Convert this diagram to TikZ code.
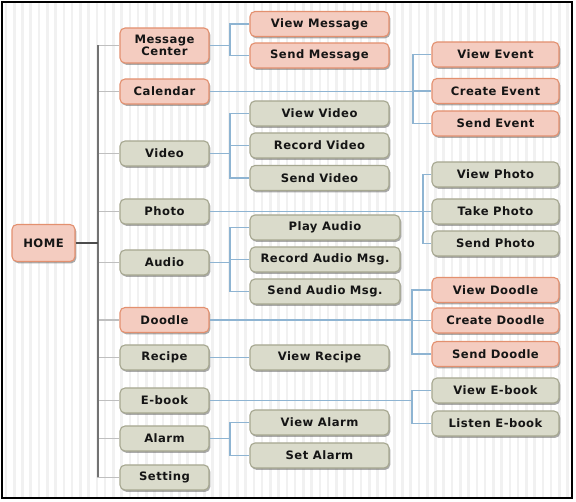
\documentclass[tikz,border=0pt]{standalone}
\usepackage{fontspec}
\setmainfont{DejaVu Sans}[LetterSpace=4]
\usetikzlibrary{shadows}
\definecolor{salfill}{HTML}{F4CCC0}
\definecolor{saldraw}{HTML}{E3906F}
\definecolor{grnfill}{HTML}{DADBCB}
\definecolor{grndraw}{HTML}{A6A790}
\definecolor{connblue}{HTML}{8EB4D2}
\definecolor{stripe}{HTML}{F1F1F1}
\definecolor{txt}{HTML}{151515}
\tikzset{
  box/.style={rounded corners=5pt, line width=1.1pt, minimum height=25pt, inner sep=1pt,
    font=\fontsize{11.6}{13}\selectfont\bfseries, text=txt, align=center,
    drop shadow={shadow xshift=1.3pt, shadow yshift=-1.8pt, opacity=0.55, fill=black!60}},
  salbox/.style={box, fill=salfill, draw=saldraw},
  grnbox/.style={box, fill=grnfill, draw=grndraw},
  lone/.style={minimum width=89pt},
  colA/.style={minimum width=139pt},
  colAw/.style={minimum width=150pt},
  colB/.style={minimum width=127pt},
  conn/.style={draw=connblue, line width=1.3pt},
  branch/.style={draw=black!25, line width=1.5pt},
  spine/.style={draw=black!55, line width=2pt},
  homelink/.style={draw=black!70, line width=2.6pt}
}
\begin{document}
\begin{tikzpicture}[x=1pt, y=-1pt]
\useasboundingbox (0,0) rectangle (576,502);
\fill[white] (0,0) rectangle (576,502);
\foreach \i in {0,...,68} {
  \draw[stripe, line width=2.6pt] ({6+8.26*\i},3) -- ({6+8.26*\i},497);
}
\draw[black, line width=1.4pt] (2,2) rectangle (572,498);

% root
\node[salbox, minimum width=63pt, minimum height=37pt] (home) at (43.5,243) {HOME};

% level 1
\node[salbox, lone, minimum height=35pt] (mc) at (164.5,45.5) {Message\\[-1pt]Center};
\node[salbox, lone] (cal) at (164.5,91.5) {Calendar};
\node[grnbox, lone] (vid) at (164.5,153.5) {Video};
\node[grnbox, lone] (pho) at (164.5,211.5) {Photo};
\node[grnbox, lone] (aud) at (164.5,262.5) {Audio};
\node[salbox, lone] (doo) at (164.5,320) {Doodle};
\node[grnbox, lone] (rec) at (164.5,357.5) {Recipe};
\node[grnbox, lone] (ebk) at (164.5,400.5) {E-book};
\node[grnbox, lone] (alm) at (164.5,438.5) {Alarm};
\node[grnbox, lone] (set) at (164.5,477.5) {Setting};

% column A
\node[salbox, colA] (vm) at (319.5,24) {View Message};
\node[salbox, colA] (sm) at (319.5,55.5) {Send Message};
\node[grnbox, colA] (vv) at (319.5,113.5) {View Video};
\node[grnbox, colA] (rv) at (319.5,145.5) {Record Video};
\node[grnbox, colA] (sv) at (319.5,178) {Send Video};
\node[grnbox, colAw] (pa) at (325,227.5) {Play Audio};
\node[grnbox, colAw] (ra) at (325,259.5) {Record Audio Msg.};
\node[grnbox, colAw] (sa) at (325,291.5) {Send Audio Msg.};
\node[grnbox, colA] (vr) at (319.5,357.5) {View Recipe};
\node[grnbox, colA] (va) at (319.5,422.5) {View Alarm};
\node[grnbox, colA] (sal) at (319.5,455.5) {Set Alarm};

% column B
\node[salbox, colB] (ve) at (495.5,54.5) {View Event};
\node[salbox, colB] (ce) at (495.5,91) {Create Event};
\node[salbox, colB] (se) at (495.5,123.5) {Send Event};
\node[grnbox, colB] (vp) at (495.5,174.5) {View Photo};
\node[grnbox, colB] (tp) at (495.5,211.5) {Take Photo};
\node[grnbox, colB] (sp) at (495.5,243.5) {Send Photo};
\node[salbox, colB] (vd) at (495.5,290) {View Doodle};
\node[salbox, colB] (cd) at (495.5,320.5) {Create Doodle};
\node[salbox, colB] (sd) at (495.5,354) {Send Doodle};
\node[grnbox, colB] (veb) at (495.5,390.5) {View E-book};
\node[grnbox, colB] (le) at (495.5,423.5) {Listen E-book};

% bus coordinates
\coordinate (sp0) at (98,0);
\coordinate (bA) at (230,0);
\coordinate (bCal) at (413,0);
\coordinate (bPho) at (423,0);
\coordinate (bDoo) at (412,0);
\coordinate (bEbk) at (412,0);

% tree spine
\foreach \n in {mc,cal,vid,pho,aud,doo,rec,ebk,alm} {
  \draw[branch] (sp0 |- \n.west) -- (\n.west);
}
\draw[branch] (sp0 |- mc.west) -- (sp0 |- set.west) -- (set.west);
\draw[spine] (sp0 |- mc.west) -- (sp0 |- set.west);
\draw[homelink] (home.east) -- (sp0 |- home.east);

% message center
\draw[conn] (mc.east) -- (mc.east -| bA);
\draw[conn] (vm.west) -| (bA |- sm.west) -- (sm.west);
% calendar
\draw[conn] (cal.east) -- (cal.east -| bCal);
\draw[conn] (ve.west) -| (bCal |- se.west) -- (se.west);
\draw[conn] (bCal |- ce.west) -- (ce.west);
% video
\draw[conn] (vid.east) -- (vid.east -| bA);
\draw[conn] (vv.west) -| (bA |- sv.west) -- (sv.west);
\draw[conn] (bA |- rv.west) -- (rv.west);
% photo
\draw[conn] (pho.east) -- (pho.east -| bPho);
\draw[conn] (vp.west) -| (bPho |- sp.west) -- (sp.west);
\draw[conn] (bPho |- tp.west) -- (tp.west);
% audio
\draw[conn] (aud.east) -- (aud.east -| bA);
\draw[conn] (pa.west) -| (bA |- sa.west) -- (sa.west);
\draw[conn] (bA |- ra.west) -- (ra.west);
% doodle
\draw[conn] (doo.east) -- (doo.east -| bDoo);
\draw[conn] (vd.west) -| (bDoo |- sd.west) -- (sd.west);
\draw[conn] (bDoo |- cd.west) -- (cd.west);
% recipe
\draw[conn] (rec.east) -- (vr.west);
% e-book
\draw[conn] (ebk.east) -- (ebk.east -| bEbk);
\draw[conn] (veb.west) -| (bEbk |- le.west) -- (le.west);
% alarm
\draw[conn] (alm.east) -- (alm.east -| bA);
\draw[conn] (va.west) -| (bA |- sal.west) -- (sal.west);
\end{tikzpicture}
\end{document}
